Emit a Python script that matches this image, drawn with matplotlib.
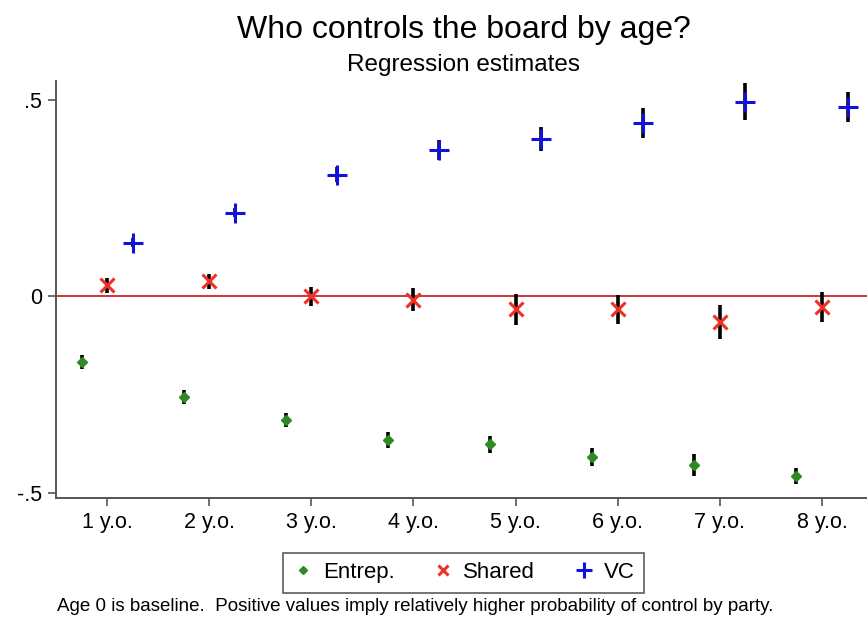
import numpy as np
import matplotlib.pyplot as plt

plt.rcParams['font.family'] = ['Liberation Sans', 'DejaVu Sans']

# === Data ===
ages = [1, 2, 3, 4, 5, 6, 7, 8]
age_labels = ["1 y.o.", "2 y.o.", "3 y.o.", "4 y.o.", "5 y.o.", "6 y.o.", "7 y.o.", "8 y.o."]

entrep = [-0.168, -0.256, -0.315, -0.365, -0.376, -0.409, -0.429, -0.457]
entrep_ci = [0.018, 0.018, 0.018, 0.02, 0.022, 0.022, 0.027, 0.02]

shared = [0.028, 0.038, 0.0, -0.008, -0.033, -0.033, -0.066, -0.028]
shared_ci = [0.02, 0.02, 0.025, 0.03, 0.04, 0.037, 0.043, 0.038]

vc = [0.137, 0.213, 0.31, 0.373, 0.401, 0.442, 0.495, 0.482]
vc_ci = [0.012, 0.012, 0.018, 0.025, 0.03, 0.038, 0.047, 0.038]

# === Figure ===
fig = plt.figure(figsize=(8.67, 6.28), dpi=100)
ax = fig.add_axes([0.0646, 0.207, 0.9424, 0.664])

x = np.array(ages, dtype=float)
series = [
    (x - 0.25, entrep, entrep_ci, "D", "#2e8b24", 5, 1.0, "Entrep."),
    (x, shared, shared_ci, "x", "#ee3124", 10, 2.2, "Shared"),
    (x + 0.25, vc, vc_ci, "+", "#1010e0", 15, 2.2, "VC"),
]

ax.axhline(0, color="#c8282d", lw=1.3, zorder=1)

handles = []
for xs, ys, ci, mk, col, ms, mew, lab in series:
    ax.errorbar(xs, ys, yerr=ci, fmt="none", ecolor="black", elinewidth=2.6, capsize=0, zorder=2)
    h, = ax.plot(xs, ys, linestyle="none", marker=mk, color=col, markersize=ms,
                 markeredgewidth=mew, zorder=3, label=lab)
    handles.append(h)

ax.set_xlim(0.5, 8.5)
ax.set_ylim(-0.513, 0.548)
ax.set_xticks(ages)
ax.set_xticklabels(age_labels)
ax.set_yticks([-0.5, 0, 0.5])
ax.set_yticklabels(["-.5", "0", ".5"])
ax.tick_params(labelsize=15.5, length=6, width=1.2, color="#555555", direction="out", pad=4)
for s in ["top", "right"]:
    ax.spines[s].set_visible(False)
for s in ["left", "bottom"]:
    ax.spines[s].set_color("#555555")
    ax.spines[s].set_linewidth(1.4)

fig.text(0.535, 0.953, "Who controls the board by age?", ha="center", va="center", fontsize=23)
fig.text(0.535, 0.897, "Regression estimates", ha="center", va="center", fontsize=17.5)

leg = fig.legend(handles=handles, loc="center", bbox_to_anchor=(0.535, 0.088), ncol=3,
                 fontsize=16, frameon=True, fancybox=False, edgecolor="#333333",
                 handlelength=0.9, handletextpad=0.45, columnspacing=1.75, markerscale=0.75,
                 borderpad=0.42)
leg.get_frame().set_linewidth(1.2)

fig.text(0.066, 0.034, "Age 0 is baseline.  Positive values imply relatively higher probability of control by party.",
         ha="left", va="center", fontsize=13.5)

fig.savefig("out.png", dpi=100)
